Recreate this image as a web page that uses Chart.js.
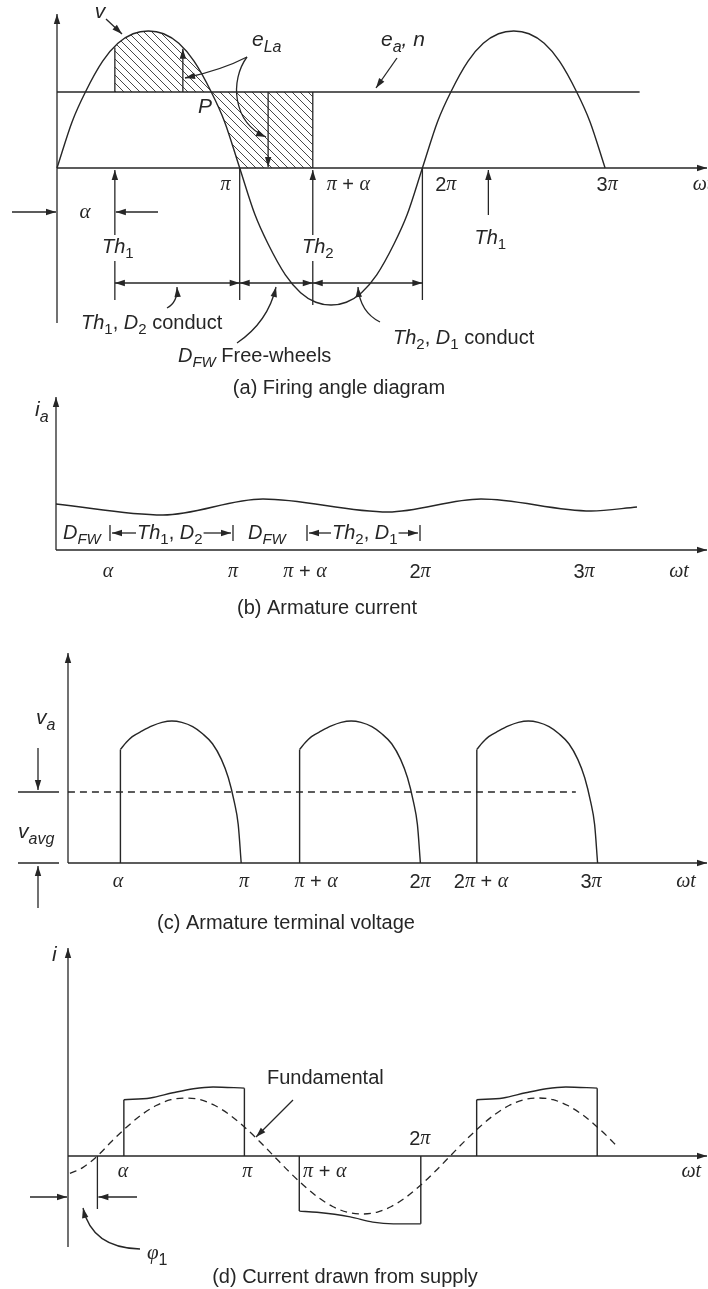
<!DOCTYPE html>
<html>
<head>
<meta charset="utf-8">
<script src="https://cdn.jsdelivr.net/npm/chart.js"></script>
<style>
html, body { margin: 0; padding: 0; background: #fff; }
#folha { position: relative; width: 708px; height: 1289px; }
#folha canvas { position: absolute; left: 0; top: 0; }
</style>
</head>
<body>
<div id="folha">
<canvas id="grafico-a" width="708" height="1289"></canvas>
<canvas id="grafico-b" width="708" height="1289"></canvas>
<canvas id="grafico-c" width="708" height="1289"></canvas>
<canvas id="grafico-d" width="708" height="1289"></canvas>
</div>
<script>
var W = 708, H = 1289, INK = '#262626', FS = 20;

// (a) supply voltage v (peak = 1), back emf e_a and hatched e_La area, angles in degrees
var vAngle = [0, 15, 28, 45, 60, 75, 90, 105, 120, 135, 152, 165, 180, 195, 208, 225, 240, 255, 270, 285, 300, 315, 332, 345, 360, 375, 388, 405, 420, 435, 450, 465, 480, 495, 512, 525, 540];
var vValue = [0, 0.34, 0.555, 0.78, 0.91, 0.98, 1, 0.98, 0.91, 0.78, 0.555, 0.34, 0, -0.34, -0.555, -0.78, -0.91, -0.98, -1, -0.98, -0.91, -0.78, -0.555, -0.34, 0, 0.34, 0.555, 0.78, 0.91, 0.98, 1, 0.98, 0.91, 0.78, 0.555, 0.34, 0];
var eaAngle = [0, 574];
var eaValue = [0.555, 0.555];
var hatchAngle = [57, 60, 75, 90, 105, 120, 135, 152, 165, 180, 252];
var hatchTop = [0.88, 0.91, 0.98, 1, 0.98, 0.91, 0.78, 0.555, 0.34, 0, 0];
var aMarkAt = [57, 180, 252, 360, 425];
var aTickAt = [166, 287, 383, 542, 636];
var aTickText = ['π', 'π + α', '2π', '3π', 'ωt'];

// (b) armature current (px above axis)
var iaAngle = [0, 107, 207, 332, 425, 535, 581];
var iaValue = [46, 35, 51, 38, 51, 39, 43];
var bTickAt = [52, 177, 249, 364, 528, 623];
var bTickText = ['α', 'π', 'π + α', '2π', '3π', 'ωt'];

// (c) armature terminal voltage (peak = 1)
var vaShape = [0.80, 0.85, 0.89, 0.93, 0.965, 0.99, 1, 0.99, 0.96, 0.91, 0.84, 0.73, 0.6, 0.43, 0.27, 0];
var va1Angle = [58, 64, 70, 80, 90, 100, 110, 120, 131, 141, 151, 160, 167, 173, 177, 180];
var va2Angle = [239, 245, 251, 261, 271, 281, 291, 301, 312, 322, 332, 341, 348, 354, 358, 361];
var va3Angle = [418, 424, 430, 440, 450, 460, 470, 480, 491, 501, 511, 520, 527, 533, 537, 540];
var vavgAngle = [5, 518];
var vavgValue = [0.5, 0.5];
var cTickAt = [55.6, 182.8, 255.6, 360.6, 422.2, 533.3, 629.3];
var cTickText = ['α', 'π', 'π + α', '2π', '2π + α', '3π', 'ωt'];

// (d) supply current and its fundamental (fundamental peak = 1)
var posAngle = [57, 84, 107, 128, 148, 180];
var posValue = [0.97, 1.0, 1.09, 1.16, 1.19, 1.17];
var negAngle = [236, 254, 288, 311, 332, 360];
var negValue = [-0.95, -0.97, -1.05, -1.14, -1.17, -1.17];
var pos3Angle = [417, 444, 467, 488, 508, 540];
var fundAngle = [2, 15, 30, 45, 60, 75, 90, 105, 120, 135, 150, 165, 180, 195, 210, 225, 240, 255, 270, 285, 300, 315, 330, 345, 360, 375, 390, 405, 420, 435, 450, 465, 480, 495, 510, 525, 540, 555, 560];
var fundValue = [-0.3, -0.2, 0, 0.26, 0.5, 0.71, 0.87, 0.97, 1, 0.97, 0.87, 0.71, 0.5, 0.26, 0, -0.26, -0.5, -0.71, -0.87, -0.97, -1, -0.97, -0.87, -0.71, -0.5, -0.26, 0, 0.26, 0.5, 0.71, 0.87, 0.97, 1, 0.97, 0.87, 0.71, 0.5, 0.26, 0.17];
var dTickAt = [56, 183, 262, 636];
var dTickText = ['α', 'π', 'π + α', 'ωt'];

// hatch pattern for the e_La area
var hc = document.createElement('canvas');
hc.width = 8; hc.height = 8;
var hx = hc.getContext('2d');
hx.strokeStyle = '#333'; hx.lineWidth = 0.9;
hx.beginPath();
hx.moveTo(-1, -1); hx.lineTo(9, 9);
hx.moveTo(-5, 3); hx.lineTo(5, 13);
hx.moveTo(3, -5); hx.lineTo(13, 5);
hx.stroke();
var hachura = hx.createPattern(hc, 'repeat');

function pts(xs, ys) {
    return xs.map(function (x, i) { return { x: x, y: ys[i] }; });
}
function curve(xs, ys, extra) {
    var ds = { data: pts(xs, ys), borderColor: INK, borderWidth: 1.4, pointRadius: 0, cubicInterpolationMode: 'monotone', fill: false };
    for (var k in extra) ds[k] = extra[k];
    return ds;
}
// vertical sides of the pulses, broken with null
function edges(list) {
    var out = [];
    list.forEach(function (e) {
        out.push({ x: e[0], y: e[1] }, { x: e[0], y: e[2] }, { x: e[0], y: null });
    });
    return { data: out, borderColor: INK, borderWidth: 1.4, pointRadius: 0, tension: 0, fill: false };
}

// drawing helpers
function pen(c) { c.strokeStyle = INK; c.fillStyle = INK; c.lineWidth = 1.3; }
function seg(c, x1, y1, x2, y2) { c.beginPath(); c.moveTo(x1, y1); c.lineTo(x2, y2); c.stroke(); }
function head(c, x, y, a) {
    var l = 10, w = 3.2;
    c.beginPath(); c.moveTo(x, y);
    c.lineTo(x - l * Math.cos(a) + w * Math.sin(a), y - l * Math.sin(a) - w * Math.cos(a));
    c.lineTo(x - l * Math.cos(a) - w * Math.sin(a), y - l * Math.sin(a) + w * Math.cos(a));
    c.closePath(); c.fill();
}
function arrow(c, x1, y1, x2, y2) { seg(c, x1, y1, x2, y2); head(c, x2, y2, Math.atan2(y2 - y1, x2 - x1)); }
function both(c, x1, y, x2) { seg(c, x1, y, x2, y); head(c, x1, y, Math.PI); head(c, x2, y, 0); }
function bend(c, x1, y1, cx, cy, x2, y2) {
    c.beginPath(); c.moveTo(x1, y1); c.quadraticCurveTo(cx, cy, x2, y2); c.stroke();
    head(c, x2, y2, Math.atan2(y2 - cy, x2 - cx));
}
function font(kind, size) {
    var sub = kind.charAt(0) === 's';
    var s = sub ? Math.round(size * 0.74) : size;
    var t = sub ? kind.slice(1) : kind;
    if (t === 'i') return 'italic ' + s + 'px "Liberation Sans", Arial, sans-serif';
    if (t === 'g') return 'italic ' + s + 'px "Liberation Serif", "Times New Roman", serif';
    return s + 'px "Liberation Sans", Arial, sans-serif';
}
function rich(c, x, y, parts, align, size) {
    size = size || FS;
    var w = 0;
    parts.forEach(function (p) { c.font = font(p[1], size); w += c.measureText(p[0]).width; });
    var px = align === 'center' ? x - w / 2 : (align === 'right' ? x - w : x);
    c.textAlign = 'left'; c.textBaseline = 'middle';
    parts.forEach(function (p) {
        c.font = font(p[1], size);
        var dy = p[1].charAt(0) === 's' ? size * 0.36 : 0;
        c.fillText(p[0], px, y + dy);
        px += c.measureText(p[0]).width;
    });
    return w;
}
function boxed(c, x, y, parts) {
    c.save(); c.fillStyle = '#fff'; c.fillRect(x - 18, y - 12, 36, 26); c.restore();
    rich(c, x, y, parts, 'center', FS);
}
function tickParts(s) {
    var out = [];
    s.split('').forEach(function (ch) {
        var k = 'παωt'.indexOf(ch) >= 0 ? 'g' : 'n';
        if (out.length && out[out.length - 1][1] === k) out[out.length - 1][0] += ch;
        else out.push([ch, k]);
    });
    return out;
}

function escalas(x0, ppd, y0, ppu) {
    return {
        x: { type: 'linear', display: false, min: -x0 / ppd, max: (W - x0) / ppd },
        y: { type: 'linear', display: false, min: -(H - y0) / ppu, max: y0 / ppu }
    };
}

function novoGrafico(id, sc, datasets, desenho) {
    var ctx = document.getElementById(id).getContext('2d');
    return new Chart(ctx, {
        type: 'line',
        data: { datasets: datasets },
        options: {
            responsive: false, animation: false, devicePixelRatio: 1, events: [],
            layout: { padding: 0 },
            plugins: { legend: { display: false }, tooltip: { enabled: false } },
            scales: sc
        },
        plugins: [{ id: 'notas-' + id, afterDraw: desenho }]
    });
}

function px(chart) {
    var sx = chart.scales.x, sy = chart.scales.y;
    return {
        X: function (v) { return sx.getPixelForValue(v); },
        Y: function (v) { return sy.getPixelForValue(v); }
    };
}

// (a) Firing angle diagram
novoGrafico('grafico-a', escalas(57, 1.015, 168, 137), [
    curve(vAngle, vValue),
    curve(eaAngle, eaValue, { cubicInterpolationMode: 'default', tension: 0 }),
    curve(hatchAngle, hatchTop, { cubicInterpolationMode: 'default', tension: 0, borderColor: 'rgba(0,0,0,0)', fill: '+1', backgroundColor: hachura }),
    curve(hatchAngle, hatchAngle.map(function () { return eaValue[0]; }), { cubicInterpolationMode: 'default', tension: 0, borderColor: 'rgba(0,0,0,0)' })
], function (chart) {
    var c = chart.ctx, p = px(chart), X = p.X, Y = p.Y;
    c.save(); pen(c);
    var ox = X(0), oy = Y(0), ea = Y(eaValue[0]);
    arrow(c, ox, 323, ox, 14);
    arrow(c, ox, oy, 707, oy);
    var h0 = hatchAngle[0], h1 = hatchAngle[hatchAngle.length - 1];
    seg(c, X(h0), ea, X(h0), Y(hatchTop[0]));
    seg(c, X(h1), ea, X(h1), oy);
    arrow(c, X(124), ea, X(124), Y(0.87));
    arrow(c, X(208), ea, X(208), oy - 1);
    rich(c, 100, 12, [['v', 'i']], 'center', 21);
    arrow(c, 106, 19, 122, 34);
    rich(c, 252, 40, [['e', 'i'], ['La', 'si']], 'left', 21);
    bend(c, 247, 57, 222, 70, 185, 78);
    c.beginPath(); c.moveTo(247, 57); c.bezierCurveTo(230, 80, 232, 122, 266, 137); c.stroke();
    head(c, 266, 137, Math.atan2(137 - 122, 266 - 232));
    rich(c, 381, 40, [['e', 'i'], ['a', 'si'], [', n', 'i']], 'left', 21);
    arrow(c, 397, 58, 376, 88);
    rich(c, 205, 107, [['P', 'i']], 'center', 21);
    aTickAt.forEach(function (v, i) { rich(c, X(v), 185, tickParts(aTickText[i]), 'center', FS); });
    arrow(c, 12, 212, ox - 1, 212);
    rich(c, 85, 212, [['α', 'g']], 'center', 21);
    arrow(c, 158, 212, X(aMarkAt[0]) + 1, 212);
    arrow(c, X(aMarkAt[0]), 300, X(aMarkAt[0]), oy + 2);
    seg(c, X(aMarkAt[1]), oy, X(aMarkAt[1]), 300);
    arrow(c, X(aMarkAt[2]), 305, X(aMarkAt[2]), oy + 2);
    seg(c, X(aMarkAt[3]), oy, X(aMarkAt[3]), 300);
    arrow(c, X(aMarkAt[4]), 215, X(aMarkAt[4]), oy + 2);
    boxed(c, X(aMarkAt[0]) + 3, 247, [['Th', 'i'], ['1', 'sn']]);
    boxed(c, X(aMarkAt[2]) + 5, 247, [['Th', 'i'], ['2', 'sn']]);
    rich(c, X(aMarkAt[4]) + 2, 238, [['Th', 'i'], ['1', 'sn']], 'center', FS);
    both(c, X(aMarkAt[0]), 283, X(aMarkAt[1]));
    both(c, X(aMarkAt[1]), 283, X(aMarkAt[2]));
    both(c, X(aMarkAt[2]), 283, X(aMarkAt[3]));
    bend(c, 167, 308, 178, 302, 177, 287);
    bend(c, 237, 343, 268, 322, 276, 287);
    bend(c, 380, 322, 360, 312, 358, 287);
    rich(c, 81, 323, [['Th', 'i'], ['1', 'sn'], [', ', 'n'], ['D', 'i'], ['2', 'sn'], [' conduct', 'n']], 'left', FS);
    rich(c, 178, 356, [['D', 'i'], ['FW', 'si'], [' Free-wheels', 'n']], 'left', FS);
    rich(c, 393, 338, [['Th', 'i'], ['2', 'sn'], [', ', 'n'], ['D', 'i'], ['1', 'sn'], [' conduct', 'n']], 'left', FS);
    rich(c, 339, 388, [['(a) Firing angle diagram', 'n']], 'center', FS);
    c.restore();
});

// (b) Armature current
novoGrafico('grafico-b', escalas(56, 1, 550, 1), [
    curve(iaAngle, iaValue)
], function (chart) {
    var c = chart.ctx, p = px(chart), X = p.X, Y = p.Y;
    c.save(); pen(c);
    var ox = X(0), oy = Y(0), ry = 533, w;
    arrow(c, ox, oy, 707, oy);
    arrow(c, ox, oy, ox, 397);
    rich(c, 35, 410, [['i', 'i'], ['a', 'si']], 'left', 21);
    rich(c, 63, ry, [['D', 'i'], ['FW', 'si']], 'left', FS);
    seg(c, 110, ry - 8, 110, ry + 8);
    arrow(c, 136, ry, 112, ry);
    w = rich(c, 137, ry, [['Th', 'i'], ['1', 'sn'], [', ', 'n'], ['D', 'i'], ['2', 'sn']], 'left', FS);
    arrow(c, 137 + w + 1, ry, 231, ry);
    seg(c, 233, ry - 8, 233, ry + 8);
    rich(c, 248, ry, [['D', 'i'], ['FW', 'si']], 'left', FS);
    seg(c, 307, ry - 8, 307, ry + 8);
    arrow(c, 331, ry, 309, ry);
    w = rich(c, 332, ry, [['Th', 'i'], ['2', 'sn'], [', ', 'n'], ['D', 'i'], ['1', 'sn']], 'left', FS);
    arrow(c, 332 + w + 1, ry, 418, ry);
    seg(c, 420, ry - 8, 420, ry + 8);
    bTickAt.forEach(function (v, i) { rich(c, X(v), 572, tickParts(bTickText[i]), 'center', FS); });
    rich(c, 327, 608, [['(b) Armature current', 'n']], 'center', FS);
    c.restore();
});

// (c) Armature terminal voltage
novoGrafico('grafico-c', escalas(63, 0.99, 863, 142), [
    curve(va1Angle, vaShape),
    curve(va2Angle, vaShape),
    curve(va3Angle, vaShape),
    edges([[va1Angle[0], 0, vaShape[0]], [va2Angle[0], 0, vaShape[0]], [va3Angle[0], 0, vaShape[0]]]),
    curve(vavgAngle, vavgValue, { cubicInterpolationMode: 'default', tension: 0, borderDash: [7, 5] })
], function (chart) {
    var c = chart.ctx, p = px(chart), X = p.X, Y = p.Y;
    c.save(); pen(c);
    var ox = 68, oy = Y(0), av = Y(vavgValue[0]);
    arrow(c, ox, oy, 707, oy);
    arrow(c, ox, oy, ox, 653);
    rich(c, 36, 718, [['v', 'i'], ['a', 'si']], 'left', 21);
    arrow(c, 38, 748, 38, av - 2);
    seg(c, 18, av, 59, av);
    rich(c, 18, 832, [['v', 'i'], ['avg', 'si']], 'left', 21);
    seg(c, 18, oy, 59, oy);
    arrow(c, 38, 908, 38, oy + 3);
    cTickAt.forEach(function (v, i) { rich(c, X(v), 882, tickParts(cTickText[i]), 'center', FS); });
    rich(c, 286, 923, [['(c) Armature terminal voltage', 'n']], 'center', FS);
    c.restore();
});

// (d) Current drawn from supply
novoGrafico('grafico-d', escalas(68, 0.98, 1156, 58), [
    curve(posAngle, posValue),
    curve(negAngle, negValue),
    curve(pos3Angle, posValue),
    edges([[posAngle[0], 0, posValue[0]], [posAngle[5], posValue[5], 0], [negAngle[0], 0, negValue[0]], [negAngle[5], negValue[5], 0], [pos3Angle[0], 0, posValue[0]], [pos3Angle[5], posValue[5], 0]]),
    curve(fundAngle, fundValue, { borderDash: [7, 5], borderWidth: 1.3 })
], function (chart) {
    var c = chart.ctx, p = px(chart), X = p.X, Y = p.Y;
    c.save(); pen(c);
    var ox = X(0), oy = Y(0);
    arrow(c, ox, oy, 707, oy);
    seg(c, ox, 1247, ox, oy);
    arrow(c, ox, oy, ox, 948);
    rich(c, 52, 955, [['i', 'i']], 'left', 21);
    dTickAt.forEach(function (v, i) { rich(c, X(v), 1172, tickParts(dTickText[i]), 'center', FS); });
    rich(c, X(359), 1139, tickParts('2π'), 'center', FS);
    rich(c, 267, 1078, [['Fundamental', 'n']], 'left', FS);
    arrow(c, 293, 1100, 256, 1137);
    var xp = X(fundAngle[2]);
    seg(c, xp, oy, xp, 1209);
    arrow(c, 30, 1197, ox - 1, 1197);
    arrow(c, 137, 1197, xp + 1, 1197);
    bend(c, 140, 1249, 92, 1248, 83, 1208);
    rich(c, 147, 1253, [['φ', 'g'], ['1', 'sn']], 'left', 21);
    rich(c, 345, 1277, [['(d) Current drawn from supply', 'n']], 'center', FS);
    c.restore();
});
</script>
</body>
</html>
